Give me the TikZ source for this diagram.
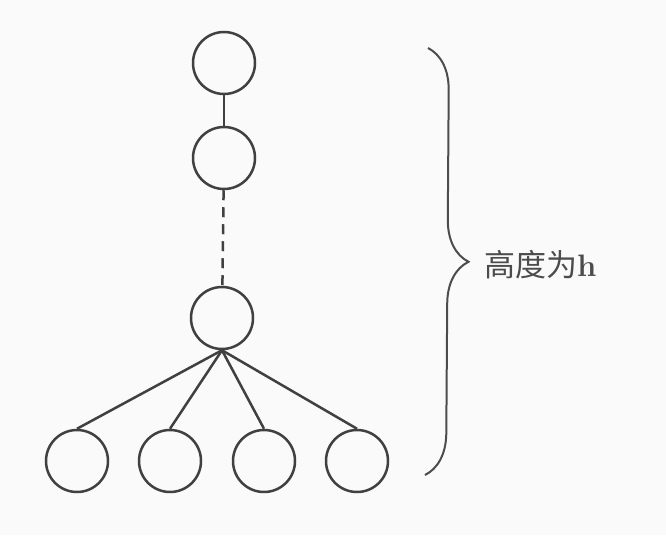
\documentclass[tikz,border=0pt]{standalone}
\usepackage{fontspec}
\newfontfamily\cjk{Noto Sans CJK SC}
\usetikzlibrary{decorations.pathreplacing}

\begin{document}
\begin{tikzpicture}[x=1pt,y=-1pt,
		treenode/.style={circle,draw=black!75,line width=2.5pt,minimum size=62pt,inner sep=0pt},
		treeedge/.style={draw=black!75,line width=2.5pt}]
			\fill[black!2] (0,0) rectangle (666,535);
			\useasboundingbox (0,0) rectangle (666,535);
			% the chain from the root down
			\node[treenode] (root) at (224,63) {};
			\node[treenode] (second) at (224,158) {};
			\node[treenode] (parent) at (222,318) {};
			\foreach \i/\x in {1/77,2/170,3/264,4/357}
				\node[treenode] (leaf\i) at (\x,461) {};
			\draw[treeedge] (root) -- (second);
			\draw[treeedge,dash pattern=on 10pt off 7pt] (second) -- (parent);
			\foreach \i in {1,...,4}
				\draw[treeedge] (parent.south) -- (leaf\i.north);
			% height brace
			\coordinate (bracetop) at (428,48);
			\coordinate (bracebot) at (425,475);
			\draw[draw=black!70,line width=2pt,decorate,decoration={brace,amplitude=42pt}] (bracetop) -- (bracebot);
			\node[anchor=west,inner sep=0pt,text=black!70] (height) at (484,265) {\fontsize{31}{36}\selectfont\cjk 高度为\rmfamily\bfseries h};
		\end{tikzpicture}
\end{document}
